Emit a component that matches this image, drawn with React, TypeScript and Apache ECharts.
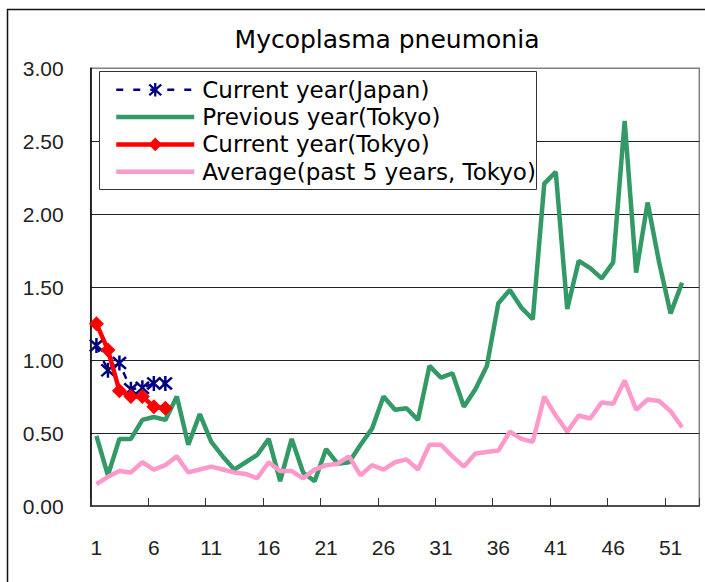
import React, { useEffect, useRef } from "react";
import * as echarts from "echarts";

const weeks = [
  "1","2","3","4","5","6","7","8","9","10","11","12","13","14","15","16","17","18","19","20",
  "21","22","23","24","25","26","27","28","29","30","31","32","33","34","35","36","37","38","39","40",
  "41","42","43","44","45","46","47","48","49","50","51","52","53",
];

const currentJapan = [1.10, 0.93, 0.98, 0.80, 0.81, 0.84, 0.84];
const currentTokyo = [1.25, 1.07, 0.79, 0.75, 0.75, 0.68, 0.67];
const previousTokyo = [
  0.48, 0.21, 0.46, 0.46, 0.59, 0.61, 0.59, 0.75, 0.42, 0.63,
  0.44, 0.34, 0.25, 0.30, 0.35, 0.46, 0.17, 0.46, 0.23, 0.17,
  0.39, 0.29, 0.30, 0.42, 0.53, 0.75, 0.66, 0.67, 0.59, 0.96,
  0.88, 0.91, 0.68, 0.80, 0.96, 1.39, 1.48, 1.36, 1.28, 2.21,
  2.29, 1.35, 1.68, 1.63, 1.56, 1.67, 2.64, 1.60, 2.08, 1.67,
  1.32, 1.53,
];
const averageTokyo = [
  0.15, 0.20, 0.24, 0.23, 0.30, 0.25, 0.28, 0.34, 0.23, 0.25,
  0.27, 0.25, 0.23, 0.22, 0.19, 0.30, 0.24, 0.24, 0.19, 0.25,
  0.28, 0.29, 0.34, 0.21, 0.28, 0.25, 0.30, 0.32, 0.25, 0.42,
  0.42, 0.34, 0.27, 0.36, 0.37, 0.38, 0.51, 0.46, 0.44, 0.75,
  0.62, 0.51, 0.62, 0.60, 0.71, 0.70, 0.86, 0.66, 0.73, 0.72,
  0.65, 0.54,
];

const seriesNames = [
  "Current year(Japan)",
  "Previous year(Tokyo)",
  "Current year(Tokyo)",
  "Average(past 5 years, Tokyo)",
];

const ASTERISK =
  "path://M8.5 0 H11.5 V20 H8.5 Z M1 3.2 L3.2 1 L19 16.8 L16.8 19 Z M16.8 1 L19 3.2 L3.2 19 L1 16.8 Z";

const TEXT_FONT = "DejaVu Sans";
const TICK_FONT = "Liberation Sans";

export default function App() {
  const ref = useRef<HTMLDivElement>(null);

  useEffect(() => {
    document.body.style.margin = "0";
    if (!ref.current) return;
    const chart = echarts.init(ref.current, null, { renderer: "svg" });
    chart.setOption({
      animation: false,
      backgroundColor: "#fff",
      title: {
        text: "Mycoplasma pneumonia",
        left: 387,
        top: 27,
        textAlign: "center",
        padding: 0,
        textStyle: {
          fontFamily: TEXT_FONT,
          fontSize: 25,
          fontWeight: "normal",
          color: "#000",
        },
      },
      graphic: [
        {
          type: "rect",
          shape: { x: 7.5, y: 9.5, width: 720, height: 600 },
          style: { fill: "none", stroke: "#111", lineWidth: 1.5 },
          z: 0,
          silent: true,
        },
        {
          type: "rect",
          shape: { x: 99.5, y: 71.5, width: 437, height: 118 },
          style: { fill: "#fff", stroke: "#333", lineWidth: 1 },
          z: 5,
          silent: true,
        },
      ],
      legend: {
        orient: "vertical",
        left: 114,
        top: 78.3,
        padding: 0,
        itemWidth: 78,
        itemHeight: 17,
        itemGap: 4.3,
        z: 6,
        data: [
          { name: seriesNames[0], lineStyle: { width: 2.5 } },
          { name: seriesNames[1], itemStyle: { opacity: 0 }, lineStyle: { width: 4.5 } },
          { name: seriesNames[2], lineStyle: { width: 4.5 } },
          { name: seriesNames[3], itemStyle: { opacity: 0 }, lineStyle: { width: 4.5 } },
        ],
        textStyle: {
          fontFamily: TEXT_FONT,
          fontSize: 23,
          lineHeight: 22,
          color: "#000",
          padding: [0, 0, 0, 3],
        },
      },
      grid: {
        left: 90.7,
        top: 68.3,
        right: 5.7,
        bottom: 76,
        show: true,
        borderColor: "#808080",
        borderWidth: 1.5,
      },
      xAxis: {
        type: "category",
        data: weeks,
        boundaryGap: true,
        axisLine: { show: true, lineStyle: { color: "#333", width: 1.5 } },
        axisTick: {
          show: true,
          inside: true,
          length: 8,
          interval: 4,
          lineStyle: { color: "#333", width: 1 },
        },
        axisLabel: {
          interval: 4,
          margin: 31,
          fontFamily: TICK_FONT,
          fontSize: 21,
          color: "#222",
        },
        splitLine: { show: false },
      },
      yAxis: {
        type: "value",
        min: 0,
        max: 3,
        interval: 0.5,
        axisLine: { show: true, lineStyle: { color: "#000", width: 1.5 } },
        axisTick: { show: false },
        axisLabel: {
          margin: 27,
          fontFamily: TICK_FONT,
          fontSize: 21,
          color: "#222",
          formatter: (v: number) => v.toFixed(2),
        },
        splitLine: {
          show: true,
          showMinLine: false,
          showMaxLine: false,
          lineStyle: { color: "#222", width: 1 },
        },
      },
      series: [
        {
          name: seriesNames[0],
          type: "line",
          data: currentJapan,
          z: 2,
          symbol: ASTERISK,
          symbolSize: 15,
          showAllSymbol: true,
          lineStyle: { color: "#000080", width: 2.5, type: [7, 10] },
          itemStyle: { color: "#000080" },
        },
        {
          name: seriesNames[1],
          type: "line",
          data: previousTokyo,
          z: 3,
          symbol: "none",
          lineStyle: { color: "#339966", width: 4.5 },
          itemStyle: { color: "#339966" },
        },
        {
          name: seriesNames[2],
          type: "line",
          data: currentTokyo,
          z: 4,
          symbol: "diamond",
          symbolSize: 15,
          showAllSymbol: true,
          lineStyle: { color: "#ff0000", width: 4.5 },
          itemStyle: { color: "#ff0000" },
        },
        {
          name: seriesNames[3],
          type: "line",
          data: averageTokyo,
          z: 4,
          symbol: "none",
          lineStyle: { color: "#ff99cc", width: 4.5 },
          itemStyle: { color: "#ff99cc" },
        },
      ],
    });
    return () => chart.dispose();
  }, []);

  return <div ref={ref} style={{ width: 705, height: 582 }} />;
}
